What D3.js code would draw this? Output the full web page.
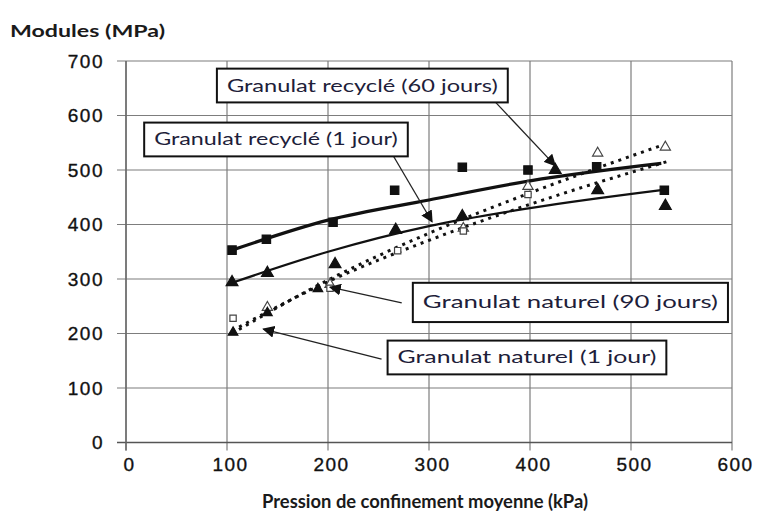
<!DOCTYPE html>
<html>
<head>
<meta charset="utf-8">
<script src="https://cdn.jsdelivr.net/npm/d3@7/dist/d3.min.js"></script>
<style>
  html, body { margin: 0; padding: 0; background: #fff; }
  svg { display: block; }
</style>
</head>
<body>
<svg id="chart" width="761" height="513"></svg>
<script>
// ---------- data ----------
const xTicks = [0, 100, 200, 300, 400, 500, 600];
const yTicks = [0, 100, 200, 300, 400, 500, 600, 700];

// measured points
const recycle60Pts = [[105,353],[139,373],[205,404],[266,463],[333,505],[398,500],[466,506],[533,463]];
const recycle1Pts  = [[105,294],[140,311],[207,327],[267,390],[333,415],[425,500],[467,463],[534,434]];
const naturel90Pts = [[140,248],[202,290],[334,393],[398,470],[467,531],[534,542]];
const naturel1Pts  = [[106,228],[202,283],[269,352],[334,388],[398,455]];
const naturel1FilledPts = [[106,202],[140,238],[190,282]];

// trend curves
const recycle60Trend = [[105,353],[200,408],[300,445],[400,480],[530,512]];
const recycle1Trend  = [[105,293],[200,350],[300,397],[400,430],[530,463]];
const naturel90Trend = [[105,200],[200,298],[300,384],[400,458],[530,545]];
const naturel1Trend  = [[105,205],[200,295],[300,371],[400,437],[535,515]];

// annotations: label, box [x0,x1] in kPa, [yTop,yBottom] in MPa, leader from -> to
const annLabels = ["Granulat recyclé (60 jours)", "Granulat recyclé (1 jour)",
                   "Granulat naturel (90 jours)", "Granulat naturel (1 jour)"];
const annBoxX = [[90,378],[18,279],[284,596],[259,535]];
const annBoxY = [[686,624],[587,525],[293,221],[187,125]];
const annFrom = [[363,630],[264,528],[273,256],[253,153]];
const annTo   = [[425,508],[303,405],[202,285],[136,208]];

// ---------- layout ----------
const svg = d3.select("#chart");
const x = d3.scaleLinear().domain([0, 600]).range([126, 732]);
const y = d3.scaleLinear().domain([0, 700]).range([442.5, 61]);
const gridColor = "#7d7d7d";

// grid
const grid = svg.append("g");
grid.selectAll("line.v").data(xTicks).join("line")
  .attr("x1", d => x(d)).attr("x2", d => x(d))
  .attr("y1", y(700)).attr("y2", y(0) + 8)
  .attr("stroke", gridColor).attr("stroke-width", 1.2);
grid.selectAll("line.h").data(yTicks).join("line")
  .attr("x1", x(0) - 9).attr("x2", x(600))
  .attr("y1", d => y(d)).attr("y2", d => y(d))
  .attr("stroke", gridColor).attr("stroke-width", 1.2);
// axis baseline
svg.append("line").attr("x1", x(0) - 9).attr("x2", x(600))
  .attr("y1", y(0)).attr("y2", y(0)).attr("stroke", "#555").attr("stroke-width", 1.6);
svg.append("line").attr("x1", x(0)).attr("x2", x(0))
  .attr("y1", y(700)).attr("y2", y(0) + 8).attr("stroke", "#666").attr("stroke-width", 1.4);

// axes labels via d3 axes (lines hidden)
const yAxis = svg.append("g").attr("transform", `translate(${x(0)},0)`)
  .call(d3.axisLeft(y).tickValues(yTicks).tickSize(0).tickPadding(22).tickFormat(d3.format("d")));
const xAxis = svg.append("g").attr("transform", `translate(0,${y(0)})`)
  .call(d3.axisBottom(x).tickValues(xTicks).tickSize(0).tickPadding(15).tickFormat(d3.format("d")));
[yAxis, xAxis].forEach(a => {
  a.select(".domain").remove();
  a.selectAll("text").attr("font-family", "'Liberation Sans', Arial, sans-serif")
    .attr("font-size", 19).attr("fill", "#111").attr("letter-spacing", 1.5)
    .attr("stroke", "#111").attr("stroke-width", 0.35);
});
xAxis.selectAll("text").attr("dx", 3);

// axis titles
svg.append("text").attr("x", 10).attr("y", 37).text("Modules (MPa)")
  .attr("font-family", "Lato, 'Open Sans', sans-serif").attr("font-weight", "bold")
  .attr("font-size", 17).attr("fill", "#1a1a1a")
  .attr("textLength", 155).attr("lengthAdjust", "spacingAndGlyphs");
svg.append("text").attr("x", 262).attr("y", 508).text("Pression de confinement moyenne (kPa)")
  .attr("font-family", "Lato, 'Open Sans', sans-serif").attr("font-weight", "bold")
  .attr("font-size", 18).attr("fill", "#1a1a1a")
  .attr("textLength", 326).attr("lengthAdjust", "spacingAndGlyphs");

// trend lines
const line = d3.line().x(d => x(d[0])).y(d => y(d[1])).curve(d3.curveMonotoneX);
svg.append("path").datum(recycle60Trend).attr("d", line)
  .attr("fill", "none").attr("stroke", "#111").attr("stroke-width", 3.2);
svg.append("path").datum(recycle1Trend).attr("d", line)
  .attr("fill", "none").attr("stroke", "#111").attr("stroke-width", 2.2);
svg.append("path").datum(naturel90Trend).attr("d", line)
  .attr("fill", "none").attr("stroke", "#111").attr("stroke-width", 3)
  .attr("stroke-dasharray", "3,5");
svg.append("path").datum(naturel1Trend).attr("d", line)
  .attr("fill", "none").attr("stroke", "#111").attr("stroke-width", 3)
  .attr("stroke-dasharray", "3,5");

// markers
const sq = d3.symbol().type(d3.symbolSquare);
const tri = d3.symbol().type(d3.symbolTriangle);
function drawMarkers(data, gen, size, fill, stroke) {
  svg.append("g").selectAll("path").data(data).join("path")
    .attr("transform", d => `translate(${x(d[0])},${y(d[1])})`)
    .attr("d", gen.size(size)())
    .attr("fill", fill).attr("stroke", stroke).attr("stroke-width", 1.2);
}
drawMarkers(recycle60Pts, sq, 70, "#111", "#111");
drawMarkers(recycle1Pts, tri, 60, "#111", "#111");
drawMarkers(naturel90Pts, tri, 45, "#fff", "#444");
drawMarkers(naturel1Pts, sq, 40, "#fff", "#444");
drawMarkers(naturel1FilledPts, tri, 40, "#111", "#111");

// arrowhead marker
svg.append("defs").append("marker")
  .attr("id", "arrow").attr("viewBox", "0 0 10 10").attr("refX", 9).attr("refY", 5)
  .attr("markerWidth", 12).attr("markerHeight", 12).attr("orient", "auto-start-reverse")
  .attr("markerUnits", "userSpaceOnUse")
  .append("path").attr("d", "M0,0 L10,5 L0,10 z").attr("fill", "#111");

// annotations
annLabels.forEach((lab, i) => {
  svg.append("line")
    .attr("x1", x(annFrom[i][0])).attr("y1", y(annFrom[i][1]))
    .attr("x2", x(annTo[i][0])).attr("y2", y(annTo[i][1]))
    .attr("stroke", "#222").attr("stroke-width", 1.3)
    .attr("marker-end", "url(#arrow)");
  const bx0 = x(annBoxX[i][0]), bx1 = x(annBoxX[i][1]);
  const by0 = y(annBoxY[i][0]), by1 = y(annBoxY[i][1]);
  svg.append("rect").attr("x", bx0).attr("y", by0)
    .attr("width", bx1 - bx0).attr("height", by1 - by0)
    .attr("fill", "#fff").attr("stroke", "#111").attr("stroke-width", 2);
  svg.append("text").attr("x", (bx0 + bx1) / 2).attr("y", (by0 + by1) / 2 + 6)
    .attr("text-anchor", "middle").text(lab)
    .attr("font-family", "Lato, 'Open Sans', sans-serif").attr("font-size", 17)
    .attr("fill", "#1e1e3a")
    .attr("textLength", (bx1 - bx0) - 20).attr("lengthAdjust", "spacingAndGlyphs");
});
</script>
</body>
</html>
